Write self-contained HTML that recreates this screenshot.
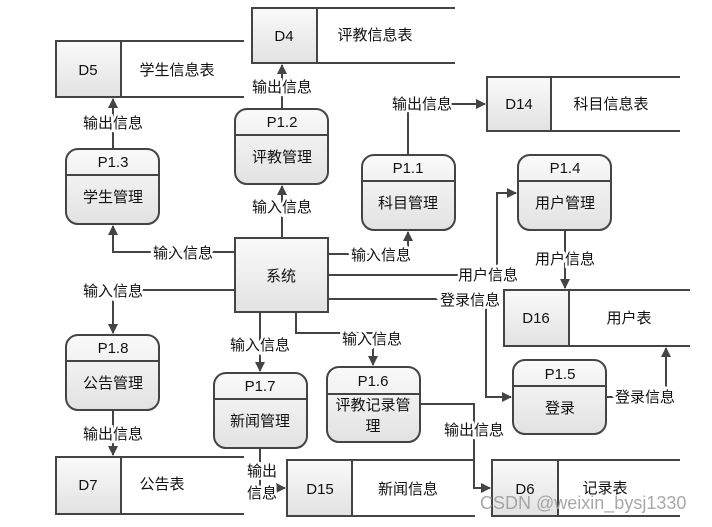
<!DOCTYPE html>
<html><head><meta charset="utf-8"><style>
body{margin:0;background:#fff}
text{font-family:"Liberation Sans","Noto Sans CJK SC",sans-serif;font-size:15px;fill:#111}
</style></head><body>
<svg width="712" height="522" viewBox="0 0 712 522" xmlns="http://www.w3.org/2000/svg">
<defs>
<linearGradient id="g" x1="0" y1="0" x2="0" y2="1"><stop offset="0" stop-color="#fafafa"/><stop offset="1" stop-color="#e2e2e2"/></linearGradient>
<marker id="a" markerWidth="10" markerHeight="10" refX="9" refY="5" orient="auto" markerUnits="userSpaceOnUse"><path d="M0,0 L10,5 L0,10 z" fill="#444"/></marker>
</defs>
<g fill="none" stroke="#444" stroke-width="2">
<path d="M235,252 H113 V226" marker-end="url(#a)"/>
<path d="M282,238 V186" marker-end="url(#a)"/>
<path d="M282,109 V65" marker-end="url(#a)"/>
<path d="M113,149 V99" marker-end="url(#a)"/>
<path d="M328,254 H408 V232" marker-end="url(#a)"/>
<path d="M408,155 V104 H485" marker-end="url(#a)"/>
<path d="M328,275 H497 V193 H516" marker-end="url(#a)"/>
<path d="M565,230 V288" marker-end="url(#a)"/>
<path d="M328,299 H486 V397 H511" marker-end="url(#a)"/>
<path d="M606,397 H666 V348" marker-end="url(#a)"/>
<path d="M235,290 H113 V333" marker-end="url(#a)"/>
<path d="M113,410 V455" marker-end="url(#a)"/>
<path d="M260,312 V371" marker-end="url(#a)"/>
<path d="M296,312 V333 H373 V365" marker-end="url(#a)"/>
<path d="M260,448 V488 H285" marker-end="url(#a)"/>
<path d="M420,404 H474 V488 H490" marker-end="url(#a)"/>
</g>
<g stroke="#444" stroke-width="2">
<rect x="56" y="41" width="65" height="56" fill="url(#g)"/><path d="M121,41 H244 M121,97 H244" fill="none"/>
<rect x="252" y="8" width="65" height="55" fill="url(#g)"/><path d="M317,8 H455 M317,63 H455" fill="none"/>
<rect x="487" y="77" width="64" height="54" fill="url(#g)"/><path d="M551,77 H680 M551,131 H680" fill="none"/>
<rect x="504" y="290" width="65" height="56" fill="url(#g)"/><path d="M569,290 H690 M569,346 H690" fill="none"/>
<rect x="56" y="457" width="65" height="57" fill="url(#g)"/><path d="M121,457 H244 M121,514 H244" fill="none"/>
<rect x="287" y="460" width="65" height="56" fill="url(#g)"/><path d="M352,460 H475 M352,516 H475" fill="none"/>
<rect x="492" y="460" width="66" height="56" fill="url(#g)"/><path d="M558,460 H680 M558,516 H680" fill="none"/>
<rect x="235" y="238" width="93" height="74" fill="url(#g)"/>
</g>
<g stroke="#444" stroke-width="2" fill="url(#g)">
<rect x="66" y="149" width="93" height="75" rx="12"/><path d="M66,175 H159"/>
<rect x="235" y="109" width="93" height="75" rx="12"/><path d="M235,135 H328"/>
<rect x="362" y="155" width="93" height="75" rx="12"/><path d="M362,181 H455"/>
<rect x="518" y="155" width="93" height="75" rx="12"/><path d="M518,181 H611"/>
<rect x="66" y="335" width="93" height="75" rx="12"/><path d="M66,361 H159"/>
<rect x="214" y="373" width="93" height="75" rx="12"/><path d="M214,399 H307"/>
<rect x="327" y="367" width="93" height="75" rx="12"/><path d="M327,394 H420"/>
<rect x="513" y="360" width="93" height="74" rx="12"/><path d="M513,386 H606"/>
</g>
<g text-anchor="middle">
<text x="88" y="75">D5</text><text x="177" y="75">学生信息表</text>
<text x="284" y="41">D4</text><text x="375" y="40">评教信息表</text>
<text x="519" y="109">D14</text><text x="611" y="109">科目信息表</text>
<text x="536" y="323">D16</text><text x="629" y="323">用户表</text>
<text x="88" y="490">D7</text><text x="162" y="489">公告表</text>
<text x="320" y="494">D15</text><text x="408" y="494">新闻信息</text>
<text x="525" y="494">D6</text><text x="605" y="493">记录表</text>
<text x="281" y="281">系统</text>
<text x="113" y="167">P1.3</text><text x="113" y="202">学生管理</text>
<text x="282" y="127">P1.2</text><text x="282" y="162">评教管理</text>
<text x="408" y="173">P1.1</text><text x="408" y="208">科目管理</text>
<text x="565" y="173">P1.4</text><text x="565" y="208">用户管理</text>
<text x="113" y="353">P1.8</text><text x="113" y="388">公告管理</text>
<text x="260" y="391">P1.7</text><text x="260" y="426">新闻管理</text>
<text x="373" y="386">P1.6</text><text x="373" y="410">评教记录管</text><text x="373" y="431">理</text>
<text x="560" y="379">P1.5</text><text x="560" y="413">登录</text>
</g>
<g text-anchor="middle" stroke="#fff" stroke-width="5" paint-order="stroke">
<text x="113" y="128">输出信息</text>
<text x="282" y="92">输出信息</text>
<text x="282" y="212">输入信息</text>
<text x="183" y="258">输入信息</text>
<text x="381" y="260">输入信息</text>
<text x="422" y="109">输出信息</text>
<text x="488" y="280">用户信息</text>
<text x="565" y="264">用户信息</text>
<text x="470" y="305">登录信息</text>
<text x="645" y="402">登录信息</text>
<text x="113" y="296">输入信息</text>
<text x="113" y="439">输出信息</text>
<text x="260" y="350">输入信息</text>
<text x="372" y="344">输入信息</text>
<text x="474" y="435">输出信息</text>
<text x="262" y="476">输出</text>
<text x="262" y="498">信息</text>
</g>
<text x="480" y="509" style="font-size:18px;fill:#999;fill-opacity:0.85">CSDN @weixin_bysj1330</text>
</svg>
</body></html>
